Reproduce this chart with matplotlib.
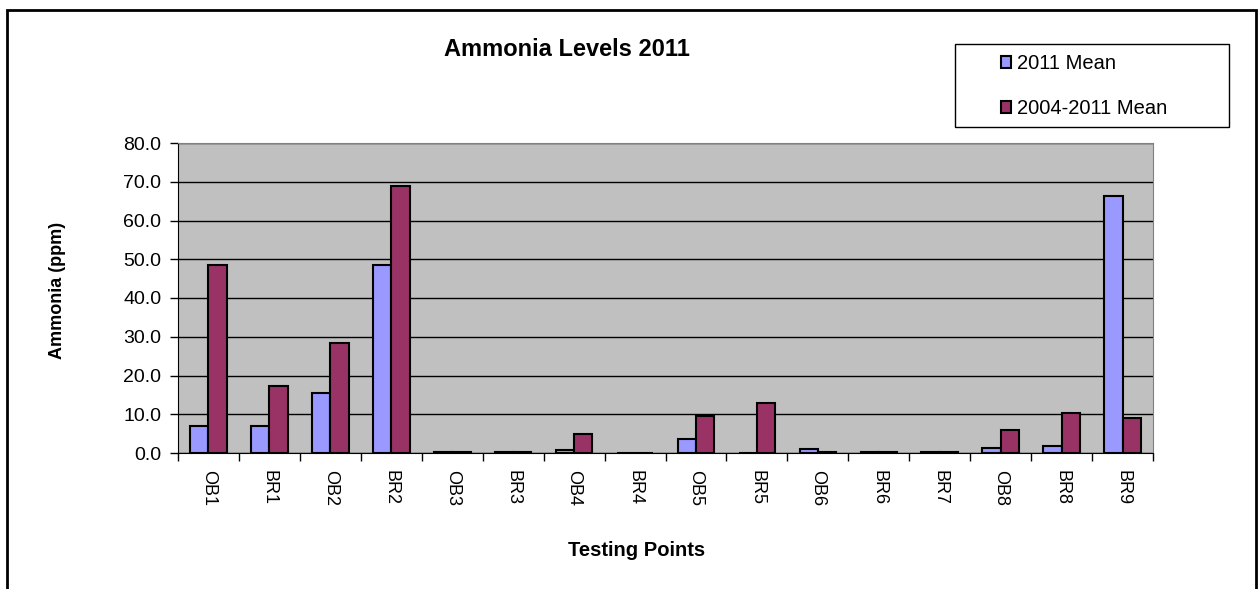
import numpy as np
import matplotlib.pyplot as plt
from matplotlib.patches import Rectangle

plt.rcParams['font.family'] = ['Liberation Sans', 'DejaVu Sans']

points = ['OB1', 'BR1', 'OB2', 'BR2', 'OB3', 'BR3', 'OB4', 'BR4',
          'OB5', 'BR5', 'OB6', 'BR6', 'BR7', 'OB8', 'BR8', 'BR9']
mean_2011 = [7.0, 7.0, 15.5, 48.5, 0.2, 0.2, 0.8, 0.0,
             3.5, 0.0, 1.0, 0.2, 0.2, 1.2, 1.8, 66.3]
mean_0411 = [48.5, 17.3, 28.5, 68.8, 0.2, 0.2, 4.8, 0.0,
             9.5, 12.8, 0.3, 0.2, 0.2, 6.0, 10.3, 9.0]

W, H = 1260, 589
fig = plt.figure(figsize=(12.6, 5.89), dpi=100)
ax = fig.add_axes([178/W, 1-453/H, (1153-178)/W, (453-143)/H])

# outer chart border
fig.patches.append(Rectangle((7/W, -0.1), 1249/W, 1.1 - 10/H,
                             transform=fig.transFigure, fill=False,
                             edgecolor='black', linewidth=2))

x = np.arange(len(points))
w = 0.3
ax.set_facecolor('#c0c0c0')
ax.bar(x - w/2, mean_2011, w, color='#9999ff', edgecolor='black', linewidth=1.5,
       label='2011 Mean', zorder=3)
ax.bar(x + w/2, mean_0411, w, color='#993366', edgecolor='black', linewidth=1.5,
       label='2004-2011 Mean', zorder=3)

ax.set_ylim(0, 80)
ax.set_xlim(-0.5, len(points) - 0.5)
ax.set_yticks(np.arange(0, 81, 10))
ax.set_yticklabels(['%.1f' % v for v in np.arange(0, 81, 10)], fontsize=14)
ax.yaxis.grid(True, color='black', linewidth=1)
ax.set_axisbelow(True)

ax.set_xticks(x)
ax.set_xticklabels(points, rotation=-90, fontsize=13)
ax.set_xticks(np.arange(-0.5, len(points)), minor=True)
ax.tick_params(axis='x', which='major', length=0, pad=12)
ax.tick_params(axis='x', which='minor', length=6, width=1, direction='out')
ax.tick_params(axis='y', length=6, width=1, direction='out', pad=6)

for s in ['top', 'right']:
    ax.spines[s].set_color('#808080')
for s in ['left', 'bottom']:
    ax.spines[s].set_color('black')

fig.text(57/W, 1-290/H, 'Ammonia (ppm)', fontsize=13, fontweight='bold',
         rotation=90, ha='center', va='center')
fig.text(637/W, 1-551/H, 'Testing Points', fontsize=14.5, fontweight='bold',
         ha='center', va='center')
fig.text(567/W, 1-50/H, 'Ammonia Levels 2011', fontsize=17, fontweight='bold',
         ha='center', va='center')

# legend box
fig.patches.append(Rectangle((955/W, 1-127/H), 274/W, 83/H,
                             transform=fig.transFigure, fill=False,
                             edgecolor='black', linewidth=1))
leg = fig.legend(loc='center left', bbox_to_anchor=(1001/W, 1-86/H),
                 fontsize=14.5, frameon=False, borderpad=0, borderaxespad=0,
                 labelspacing=1.3, handlelength=0.5, handleheight=0.5,
                 handletextpad=0.3)

fig.savefig('out.png', dpi=100)
